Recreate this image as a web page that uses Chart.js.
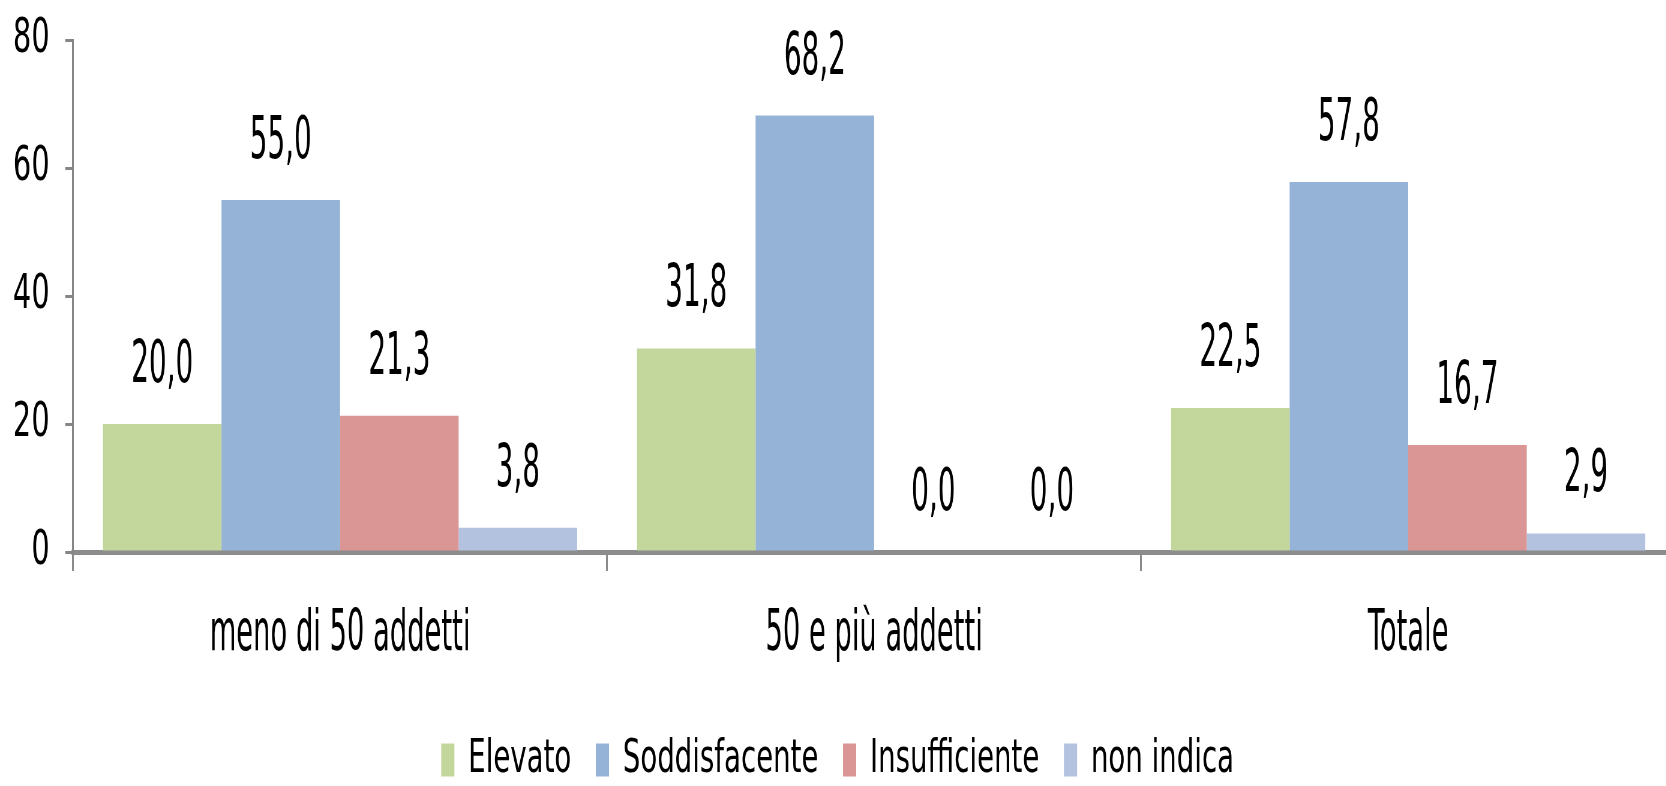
<!DOCTYPE html>
<html lang="it">
<head>
<meta charset="utf-8">
<title>Livello per classe di addetti</title>
<script src="https://cdn.jsdelivr.net/npm/chart.js@4.4.1/dist/chart.umd.min.js"></script>
<style>
  html, body { margin: 0; padding: 0; background: #ffffff; overflow: hidden; }
  /* the chart is drawn wide and compressed horizontally, giving the narrow lettering */
  #wrap { width: 2792px; height: 786px; transform: scaleX(0.6); transform-origin: 0 0; }
  #chart { display: block; width: 2792px; height: 786px; }
</style>
</head>
<body>
<div id="wrap"><canvas id="chart" width="2792" height="786"></canvas></div>
<script>
// categories and series
const categories = ['meno di 50 addetti', '50 e più addetti', 'Totale'];
const seriesNames = ['Elevato', 'Soddisfacente', 'Insufficiente', 'non indica'];
const elevato       = [20.0, 31.8, 22.5];
const soddisfacente = [55.0, 68.2, 57.8];
const insufficiente = [21.3, 0.0, 16.7];
const nonIndica     = [3.8, 0.0, 2.9];
const yTicks = [0, 20, 40, 60, 80];

const seriesValues = [elevato, soddisfacente, insufficiente, nonIndica];
const seriesColors = ['#C3D69B', '#95B3D7', '#D99694', '#B3C3DF'];

const FONT = "'DejaVu Sans', Verdana, sans-serif";
const TEXT_NARROW = 0.8;   // extra horizontal compression for value and category labels

const fmt = v => v.toFixed(1).replace('.', ',');

// value labels above every bar
const valueLabels = {
  id: 'valueLabels',
  afterDatasetsDraw(chart) {
    const ctx = chart.ctx;
    ctx.save();
    ctx.font = '58px ' + FONT;
    ctx.fillStyle = '#000000';
    ctx.textAlign = 'center';
    ctx.textBaseline = 'alphabetic';
    chart.data.datasets.forEach((ds, di) => {
      const meta = chart.getDatasetMeta(di);
      meta.data.forEach((bar, i) => {
        ctx.save();
        ctx.translate(bar.x, bar.y - 42);
        ctx.scale(TEXT_NARROW, 1);
        ctx.fillText(fmt(ds.data[i]), 0, 0);
        ctx.restore();
      });
    });
    ctx.restore();
  }
};

// category names under the x axis
const categoryLabels = {
  id: 'categoryLabels',
  afterDraw(chart) {
    const ctx = chart.ctx;
    const xs = chart.scales.x;
    ctx.save();
    ctx.font = '57px ' + FONT;
    ctx.fillStyle = '#000000';
    ctx.textAlign = 'center';
    ctx.textBaseline = 'alphabetic';
    chart.data.labels.forEach((lab, i) => {
      ctx.save();
      ctx.translate(xs.getPixelForValue(i), chart.chartArea.bottom + 98);
      ctx.scale(TEXT_NARROW, 1);
      ctx.fillText(lab, 0, 0);
      ctx.restore();
    });
    ctx.restore();
  }
};

new Chart(document.getElementById('chart'), {
  type: 'bar',
  data: {
    labels: categories,
    datasets: seriesNames.map((name, k) => ({
      label: name,
      data: seriesValues[k],
      backgroundColor: seriesColors[k],
      borderWidth: 0,
      categoryPercentage: 0.888,
      barPercentage: 1.0
    }))
  },
  options: {
    responsive: false,
    animation: false,
    devicePixelRatio: 1,
    layout: { padding: { top: 40, left: 0, right: 0, bottom: -7 } },
    plugins: {
      tooltip: { enabled: false },
      legend: {
        position: 'bottom',
        labels: {
          font: { family: FONT, size: 46 },
          color: '#000000',
          boxWidth: 22,
          boxHeight: 33,
          padding: 41
        }
      }
    },
    scales: {
      x: {
        offset: true,
        grid: {
          offset: true,
          drawOnChartArea: false,
          drawTicks: true,
          tickLength: 19,
          color: '#8a8a8a',
          lineWidth: 3
        },
        border: { display: true, color: '#8c8c8c', width: 5 },
        ticks: { display: false },
        afterFit(scale) {
          scale.height = 144;
          scale.paddingLeft = 0;
          scale.paddingRight = 0;
        }
      },
      y: {
        min: 0,
        max: 80,
        afterBuildTicks(scale) { scale.ticks = yTicks.map(v => ({ value: v })); },
        grid: {
          drawOnChartArea: false,
          drawTicks: true,
          tickLength: 13,
          color: '#868686',
          lineWidth: 3
        },
        border: { display: true, color: '#868686', width: 3 },
        ticks: {
          font: { family: FONT, size: 48 },
          color: '#000000',
          padding: 26
        },
        afterFit(scale) {
          scale.width = 121.7;
          scale.paddingTop = 0;
          scale.paddingBottom = 0;
        }
      }
    }
  },
  plugins: [valueLabels, categoryLabels]
});
</script>
</body>
</html>
